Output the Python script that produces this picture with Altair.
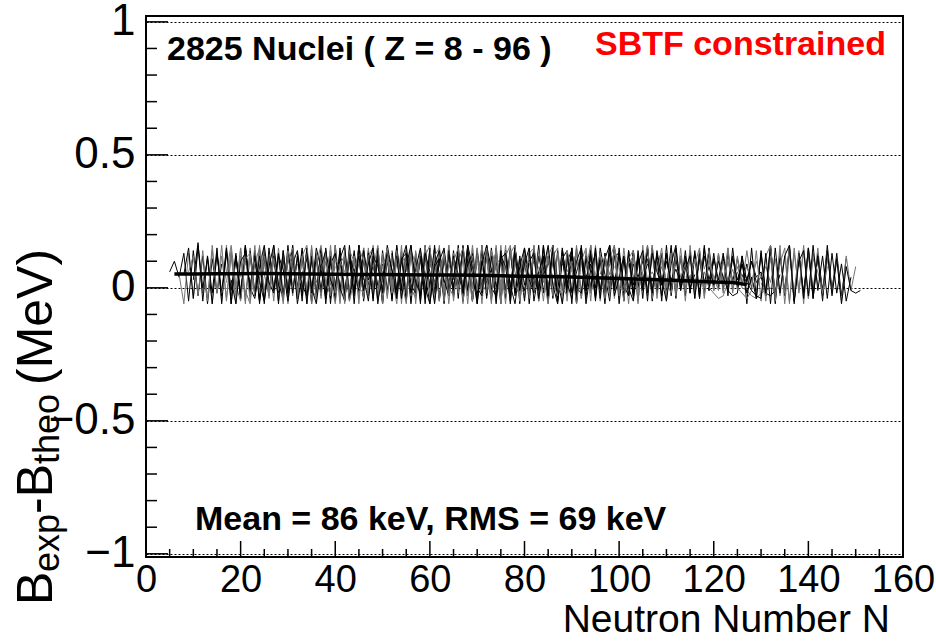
import altair as alt
import pandas as pd

# ---------------- data (chain values stored in units of 0.01 MeV) ----------------
UNIT = 0.01

Z_VALUES = [8, 10, 12, 14, 16, 18, 20, 22, 24, 26, 28, 30, 32, 34, 36, 38, 40, 42, 44, 46,
            48, 50, 52, 54, 56, 58, 60, 62, 64, 66, 68, 70, 72, 74, 76, 78, 80, 82, 84, 86,
            88, 90, 92, 94, 96,
            17, 21, 25, 29, 33, 37, 41, 45, 49, 53, 57, 61, 65, 69, 73, 77, 81, 85,
            89, 93]
N_START = [5, 7, 8, 9, 10, 12, 15, 17, 19, 20, 22, 24, 27, 30, 32, 35, 37, 39, 41, 44,
           47, 50, 52, 55, 58, 61, 64, 67, 69, 73, 76, 79, 82, 84, 86, 90, 93, 98, 102, 108,
           114, 118, 122, 130, 138,
           16, 18, 21, 23, 28, 34, 38, 43, 50, 53, 62, 66, 71, 78, 83, 88, 96, 106,
           116, 126]

z08 = [6, 10, 4, 13, -5, 14, -3, 12, -6, 11, -2, 9]
z10 = [5, -6, 13, -4, 15, -2, 12, -6, 14, -5, 16, -3, 12, -1, 10, 2, 9]
z12 = [5, 15, -4, 16, 0, 11, -6, 13, -3, 14, -6, 12, -2, 15, -1, 13, -4, 11, 1]
z14 = [6, 12, -3, 14, -5, 16, -2, 12, -4, 13, -6, 15, -3, 11, -1, 14, -5, 12, 0, 10]
z16 = [3, 17, -5, 12, -2, 15, -6, 14, -1, 13, -4, 16, -3, 12, -5, 14, -2, 11, 0, 13, -3]
z18 = [5, -4, 14, -2, 16, -5, 12, 0, 15, -6, 13, -3, 14, -1, 11, -5, 15, -2, 12, 1, 9]
z20 = [13, -2, 15, -6, 12, -4, 16, -1, 14, -5, 12, -3, 15, -6, 13, 0, 12, -4, 14, -2, 11, 2]
z22 = [2, 14, -3, 12, -5, 15, -2, 16, -4, 11, -1, 13, -6, 14, -3, 12, 0, 15, -5, 13, -2, 10, 1, 8]
z24 = [12, -4, 15, -1, 13, -6, 14, -3, 16, -2, 11, -5, 13, 0, 15, -4, 12, -2, 14, -6, 12, 1, 10, -1]
z26 = [4, 13, -5, 16, -2, 12, -4, 15, -1, 14, -6, 13, -3, 11, -5, 16, -2, 12, 0, 14, -4, 13, -1, 11, 2, 9, 3]
z28 = [14, -3, 12, -6, 15, -1, 13, -4, 16, -2, 12, -5, 14, 0, 11, -3, 15, -6, 13, -1, 12, -4, 14, -2, 10, 1, 12, 0, 9]
z30 = [3, 15, -2, 13, -5, 14, -1, 16, -4, 12, -6, 13, -2, 15, -3, 11, 0, 14, -5, 12, -2, 16, -4, 13, -1, 11, 2, 10, 3]
z32 = [12, -5, 14, -2, 16, -1, 13, -6, 12, -3, 15, -4, 11, 0, 13, -5, 16, -2, 12, -4, 14, -1, 13, -6, 11, 1, 12, -2]
z34 = [4, 14, -4, 12, -1, 15, -5, 13, -2, 16, -3, 12, -6, 14, 0, 11, -4, 15, -2, 13, -5, 12, -1, 14, -3, 10, 2, 12, 0]
z36 = [13, -3, 15, -6, 12, -1, 14, -4, 16, -2, 11, -5, 13, 0, 15, -3, 12, -6, 14, -1, 13, -4, 12, -2, 15, 0, 11, -3, 10, 2, 9]
z38 = [5, 12, -4, 14, -2, 16, -5, 13, -1, 12, -6, 15, -3, 14, 0, 11, -4, 13, -2, 16, -5, 12, -1, 14, -3, 11, 1, 13, -2, 9]
z40 = [14, -2, 12, -5, 15, -3, 13, -6, 16, -1, 12, -4, 14, -2, 11, -5, 15, 0, 13, -3, 12, -6, 14, -1, 16, -4, 11, 2, 10, -1]
z42 = [3, 13, -6, 15, -2, 12, -4, 14, -1, 16, -5, 13, -3, 11, 0, 14, -2, 15, -6, 12, -1, 13, -4, 16, -3, 12, 0, 14, -2, 11, 1, 9]
z44 = [12, -3, 14, -1, 16, -5, 13, -2, 11, -6, 15, -4, 12, 0, 14, -3, 13, -5, 16, -1, 12, -4, 14, -2, 11, 1, 15, -3, 12, -1, 10, 3]
z46 = [5, 14, -4, 12, -2, 15, -6, 13, -1, 16, -3, 12, -5, 14, 0, 11, -2, 15, -4, 13, -6, 12, -1, 14, -3, 16, -2, 11, 1, 12, 3]
z48 = [13, -5, 15, -2, 12, -4, 16, -1, 14, -6, 11, -3, 13, 0, 15, -5, 12, -2, 14, -4, 16, -1, 12, -6, 13, -3, 15, 0, 11, -4, 14, -2, 12, 1, 10, 3]
z50 = [4, 12, -2, 14, -6, 15, -3, 13, -1, 16, -4, 12, -5, 14, 0, 13, -2, 11, -6, 15, -3, 12, -1, 14, -5, 16, -2, 13, 0, 11, -4, 15, -1, 12, 2, 10, 4]
z52 = [14, -1, 12, -5, 16, -3, 13, -6, 15, -2, 11, -4, 14, 0, 12, -3, 16, -5, 13, -1, 15, -4, 12, -2, 14, -6, 11, 1, 13, -3, 15, -1, 12, 0, 11, 3, 9]
z54 = [6, 15, -3, 13, -1, 14, -5, 12, -2, 16, -4, 11, -6, 13, 0, 15, -2, 12, -5, 14, -1, 16, -3, 12, -4, 13, 0, 15, -2, 11, -5, 14, 1, 12, 4, 10]
z56 = [12, -4, 15, -2, 13, -6, 14, -1, 16, -3, 11, -5, 14, 0, 12, -2, 15, -4, 13, -1, 16, -6, 12, -3, 14, 0, 11, -2, 15, -5, 13, 1, 10, -1, 12]
z58 = [5, 13, -2, 16, -5, 12, -1, 14, -4, 15, -6, 13, -3, 11, 0, 14, -2, 16, -5, 12, -1, 13, -4, 15, -2, 11, -6, 14, 0, 12, -3, 13, 2, 11]
z60 = [14, -3, 12, -1, 15, -5, 13, -2, 16, -4, 11, -6, 14, 0, 12, -3, 15, -1, 13, -5, 16, -2, 12, -4, 14, 0, 11, -3, 15, -1, 12, 3, 10]
z62 = [4, 15, -4, 13, -1, 12, -6, 16, -2, 14, -5, 11, -3, 13, 0, 15, -4, 12, -2, 16, -1, 13, -5, 14, -3, 12, 0, 15, -2, 11, 2, 9]
z64 = [13, -2, 16, -4, 12, -6, 14, -1, 15, -3, 11, -5, 13, 0, 16, -2, 12, -4, 14, -1, 13, -6, 15, -3, 12, 0, 14, -2, 11, 1, 13, -1]
z66 = [6, 14, -5, 12, -2, 15, -1, 13, -4, 16, -3, 11, -6, 14, 0, 12, -2, 15, -5, 13, -1, 16, -3, 12, 0, 14, -4, 11, 2, 12, 4, 10]
z68 = [12, -3, 15, -1, 13, -6, 14, -2, 16, -4, 12, -5, 11, 0, 15, -3, 13, -1, 14, -5, 12, -2, 16, 0, 13, -4, 11, 1, 12, 3, 9]
z70 = [5, 13, -4, 16, -2, 12, -5, 14, -1, 15, -3, 11, -6, 13, 0, 16, -2, 12, -4, 15, -1, 13, -5, 14, -3, 12, 1, 15, -2, 11, 2, 12]
z72 = [14, -1, 12, -5, 16, -3, 13, -2, 15, -6, 11, -4, 14, 0, 12, -3, 16, -1, 13, -5, 14, -2, 12, 0, 15, -4, 11, 1, 13, -2, 12, 2, 10]
z74 = [4, 15, -3, 13, -6, 12, -1, 16, -4, 14, -2, 11, -5, 13, 0, 15, -3, 12, -1, 14, -6, 16, -2, 12, 0, 13, -4, 15, -1, 11, 2, 12, 1, 10]
z76 = [13, -4, 15, -2, 12, -5, 16, -1, 14, -3, 11, -6, 13, 0, 15, -2, 12, -4, 14, -1, 16, -5, 12, -3, 13, 0, 15, -1, 11, 2, 13, -2, 12, 3, 10]
z78 = [6, 14, -2, 12, -5, 16, -3, 13, -1, 15, -4, 11, -6, 14, 0, 12, -3, 16, -1, 13, -5, 15, -2, 12, 0, 14, -4, 11, 1, 13, -1, 12, 2, 10, 3, 8, 2]
z80 = [12, -1, 15, -4, 13, -2, 16, -6, 11, -3, 14, 0, 12, -5, 15, -2, 13, -1, 16, -4, 12, -3, 14, 0, 11, -2, 15, 1, 12, -1, 13, 2, 11, 1, 9, 0]
z82 = [5, 13, -3, 15, -1, 12, -5, 14, -2, 16, -4, 11, 0, 13, -3, 15, -1, 12, -2, 14, 0, 11, -1, 13, 1, 10, 2, 6, 0, -1, -3, -4, -2, -1, 0]
z84 = [14, -2, 12, -4, 15, -1, 13, -5, 16, -3, 11, 0, 14, -2, 12, -4, 15, -1, 13, 0, 11, 2, 12, 1, 9, 3, 10, 2, 4, -2, -3, -1, 5]
z86 = [6, 15, -3, 13, -1, 12, -5, 16, -2, 14, -4, 11, 0, 13, -2, 15, -1, 12, 1, 14, 2, 10, 4, 8, 2, 11, -3, 12, -5, 15, -2, 14, -4, 13, 1]
z88 = [12, -2, 14, -4, 16, -1, 11, 3, 13, -3, 15, 0, 12, 2, 10, 4, 6, -2, 13, -6, 14, -3, 16, -5, 12, -2, 15, -4, 13, -1, 11]
z90 = [7, 14, -1, 12, 2, 15, -2, 11, 4, 8, 3, -1, 12, -5, 15, -3, 16, -6, 13, -2, 14, -4, 12, -1, 15, -3, 11, 0, 10]
z92 = [13, 0, 11, 3, 9, -2, 4, -4, 14, -3, 16, -5, 12, -1, 15, -6, 13, -2, 14, -4, 12, -2, 16, -1, 13, -3, 11]
z94 = [2, -3, 12, -5, 14, -2, 16, -4, 13, -6, 15, -1, 12, -3, 14, -2, 11, -5, 12, -1, 8]
z96 = [13, -4, 15, -2, 12, -5, 14, -3, 11, -6, 8, -1, -2, -1]

o17 = [-2, 6, 16, 1, -5, 11, 13, -3, 4, 9, 0]
o21 = [3, -6, 10, 13, 0, -4, 8, 16, 2, -2, 12, 7, -5, 9, 14, 1, -3, 10]
o25 = [-1, -6, 9, 15, 5, -3, 11, 2, -5, 14, 8, -1, 12, 16, 0, -4, 7, 13, 3, -6, 10, 6]
o29 = [12, 2, -5, 8, 16, 1, -3, 10, 14, -6, 5, 11, -2, 15, 7, -4, 9, 13, 0, -5, 12, 6, -1, 14, 3, 8, 1]
o33 = [6, -4, 10, 15, -1, 4, 13, -6, 9, 16, 2, -3, 11, 7, -5, 14, 10, 0, -2, 12, 15, -4, 6, 11, 1, 9, 4]
o37 = [13, 0, -6, 8, 14, 3, -2, 11, 16, -4, 6, 12, -1, 9, 15, -5, 4, 13, 7, -3, 10, 16, 1, -2, 12, 5, -6, 8, 11, 2]
o41 = [5, 14, -2, 9, 12, -5, 3, 15, 10, -3, 7, 16, -1, 11, 4, -6, 13, 8, 0, -4, 14, 6, -2, 12, 15, -5, 9, 3, 11, 1]
o45 = [10, -3, 15, 4, -5, 12, 8, -1, 16, 6, -4, 11, 13, -2, 7, 15, 0, -6, 9, 14, 3, -3, 12, 5, -1, 16, 8, -4, 10, 2, 7]
o49 = [7, 15, -2, 11, 3, -6, 14, 9, -1, 12, 16, -4, 5, 13, 0, -3, 10, 15, 6, -5, 11, 2, -2, 14, 8, -6, 12, 16, 1, -3, 9, 4, 11]
o53 = [12, -4, 8, 16, 2, -2, 13, 6, -6, 10, 15, -1, 4, 14, -5, 9, 12, 0, -3, 16, 7, -4, 11, 13, 1, -6, 8, 15, 3, -2, 12, 5, 9]
o57 = [4, 13, -3, 10, 15, -5, 7, 12, -1, 16, 3, -4, 11, 9, -6, 14, 6, 0, -2, 13, 15, -5, 8, 11, 2, -3, 12, 6, 10]
o61 = [11, -2, 14, 5, -6, 9, 16, 0, -3, 12, 8, -5, 15, 3, -1, 10, 13, -4, 7, 16, 1, -6, 11, 14, -2, 6, 12, 4, 9]
o65 = [6, 15, -4, 11, 2, -2, 13, 16, -5, 8, 10, -1, 14, 4, -6, 12, 15, 0, -3, 9, 13, -4, 7, 16, 2, -1, 11, 5, 8]
o69 = [13, -1, 9, 15, -5, 6, 12, -3, 16, 3, -6, 10, 14, 0, -2, 11, 8, -4, 15, 5, -5, 12, 13, 1, -3, 9, 4, 10]
o73 = [8, -5, 12, 16, 1, -3, 14, 7, -6, 10, 15, -2, 5, 13, -4, 11, 16, 0, -1, 9, 12, -5, 14, 3, 6, 2, 8, 1]
o77 = [14, 2, -4, 10, 15, -6, 7, 13, -1, 11, 16, -3, 4, 12, 0, -5, 9, 14, -2, 13, 6, 1, 10, 3, 7, 2, 9, 0, 5]
o81 = [5, 12, -3, 15, 8, -5, 11, 14, -1, 6, 16, -4, 10, 13, 2, -2, 12, 4, 9, 3, 11, 1, 6, 0, -2, -4, -3, 2]
o85 = [11, -2, 14, 3, -5, 9, 16, -1, 7, 12, -4, 13, 2, 8, 1, 10, 4, -1, -3, -2, 12, -6, 15, -4, 13, -2, 16, -3, 11]
o89 = [9, 15, -3, 11, 4, -1, 10, 2, 7, 0, -2, -4, -1, 14, -5, 12, 16, -3, 9, 15, -6, 13, -1, 16, -4, 11, 6, -2, 8]
o93 = [5, 2, -1, -3, -4, 13, -6, 15, -2, 12, 16, -5, 10, 14, -3, 16, -1, 12, -4, 13, -2, 9, -5, 4]

CHAIN_VALUES = [z08, z10, z12, z14, z16, z18, z20, z22, z24, z26, z28, z30, z32, z34, z36,
                z38, z40, z42, z44, z46, z48, z50, z52, z54, z56, z58, z60, z62, z64, z66,
                z68, z70, z72, z74, z76, z78, z80, z82, z84, z86, z88, z90, z92, z94, z96,
                o17, o21, o25, o29, o33, o37, o41, o45, o49, o53, o57, o61, o65,
                o69, o73, o77, o81, o85, o89, o93]

# smooth band (units of 0.01 MeV)
SMOOTH_N = [6, 10, 15, 20, 25, 30, 35, 40, 45, 50, 55, 60, 65, 70, 75, 80, 85, 90, 95, 100,
            105, 110, 115, 120, 124, 127]
SMOOTH_V = [5.2, 5.2, 5.3, 5.3, 5.4, 5.3, 5.2, 5.1, 5.0, 5.0, 4.9, 4.8, 4.8, 4.7, 4.5, 4.4,
            4.3, 4.1, 3.8, 3.5, 3.2, 2.9, 2.6, 2.2, 2.0, 1.2]

X_MAJOR = [0, 20, 40, 60, 80, 100, 120, 140, 160]
X_MINOR = [5, 10, 15, 25, 30, 35, 45, 50, 55, 65, 70, 75, 85, 90, 95, 105, 110, 115,
           125, 130, 135, 145, 150, 155]
Y_MAJOR = [-1, -0.5, 0, 0.5, 1]
Y_MINOR = [-0.9, -0.8, -0.7, -0.6, -0.4, -0.3, -0.2, -0.1, 0.1, 0.2, 0.3, 0.4, 0.6, 0.7, 0.8, 0.9]

# ---------------- tables ----------------
rows = []
for i, (z, n0, vals) in enumerate(zip(Z_VALUES, N_START, CHAIN_VALUES)):
    shade = "black" if i % 2 == 0 else "gray"
    for k, v in enumerate(vals):
        rows.append({"Z": z, "N": n0 + k, "dB": v * UNIT, "shade": shade})
chains = pd.DataFrame(rows)
smooth = pd.DataFrame({"N": SMOOTH_N, "dB": [v * UNIT for v in SMOOTH_V]})

W, H = 757, 541
FONT = "Liberation Sans"
xs = alt.Scale(domain=[0, 160], nice=False, zero=False)
ys = alt.Scale(domain=[-1.012, 1.022], nice=False, zero=False)
X_AX = alt.Axis(values=X_MAJOR, labelFontSize=38, labelFont=FONT, labelColor="black",
                labelPadding=4, labelFlush=False, labelOverlap=False,
                ticks=False, domain=False, grid=False, title=None)
Y_AX = alt.Axis(values=Y_MAJOR, format=".1~f", labelFontSize=44, labelFont=FONT,
                labelColor="black", labelPadding=11, labelOverlap=False, labelFlush=False,
                ticks=False, domain=False, grid=True, gridColor="black", gridDash=[2, 2],
                gridWidth=1, title=None)

lines = alt.Chart(chains).mark_line(strokeWidth=1, clip=True).encode(
    x=alt.X("N:Q", scale=xs, axis=X_AX),
    y=alt.Y("dB:Q", scale=ys, axis=Y_AX),
    detail="Z:N",
    color=alt.Color("shade:N", scale=alt.Scale(domain=["black", "gray"],
                                                range=["#000000", "#747474"]), legend=None),
)

band = alt.Chart(smooth).mark_line(strokeWidth=3.5, color="black").encode(
    x=alt.X("N:Q", scale=xs, axis=X_AX), y=alt.Y("dB:Q", scale=ys, axis=Y_AX))

ytick_major = alt.Chart(pd.DataFrame({"v": Y_MAJOR})).mark_rule(color="black", strokeWidth=1.5).encode(
    y=alt.Y("v:Q", scale=ys, axis=Y_AX), x=alt.value(0), x2=alt.value(22))
ytick_minor = alt.Chart(pd.DataFrame({"v": Y_MINOR})).mark_rule(color="black", strokeWidth=1.5).encode(
    y=alt.Y("v:Q", scale=ys, axis=Y_AX), x=alt.value(0), x2=alt.value(11))
xtick_major = alt.Chart(pd.DataFrame({"v": X_MAJOR})).mark_rule(color="black", strokeWidth=1.5).encode(
    x=alt.X("v:Q", scale=xs, axis=X_AX), y=alt.value(H), y2=alt.value(H - 16))
xtick_minor = alt.Chart(pd.DataFrame({"v": X_MINOR})).mark_rule(color="black", strokeWidth=1.5).encode(
    x=alt.X("v:Q", scale=xs, axis=X_AX), y=alt.value(H), y2=alt.value(H - 8))


def txt(s, x, y, size, bold=False, color="black", angle=0, align="left"):
    return alt.Chart(pd.DataFrame({"t": [s]})).mark_text(
        font=FONT, fontSize=size, fontWeight="bold" if bold else "normal", color=color,
        align=align, baseline="alphabetic", angle=angle).encode(
        text="t:N", x=alt.value(x), y=alt.value(y))


texts = [
    txt("2825 Nuclei ( Z = 8 - 96 )", 21, 44, 34, bold=True),
    txt("SBTF constrained", 449, 39, 34, bold=True, color="#ff0000"),
    txt("Mean = 86 keV, RMS = 69 keV", 49, 514, 34, bold=True),
    txt("Neutron Number N", 744, 616, 39, align="right"),
    # y-axis title pieces (rotated)
    txt("B", -94, 589, 50, angle=270),
    txt("exp", -87, 556, 36, angle=270),
    txt("-B", -94, 498, 50, angle=270),
    txt("theo", -87, 448, 36, angle=270),
    txt("(MeV)", -94, 369, 50, angle=270),
]

chart = alt.layer(lines, band, ytick_major, ytick_minor, xtick_major, xtick_minor, *texts).properties(
    width=W, height=H,
    autosize=alt.AutoSizeParams(type="none"),
    padding={"left": 146, "top": 16, "right": 936 - 146 - W, "bottom": 641 - 16 - H},
    background="white",
).configure_view(stroke="black", strokeWidth=2)

chart.save("out.html", embed_options={"renderer": "svg", "actions": False})
